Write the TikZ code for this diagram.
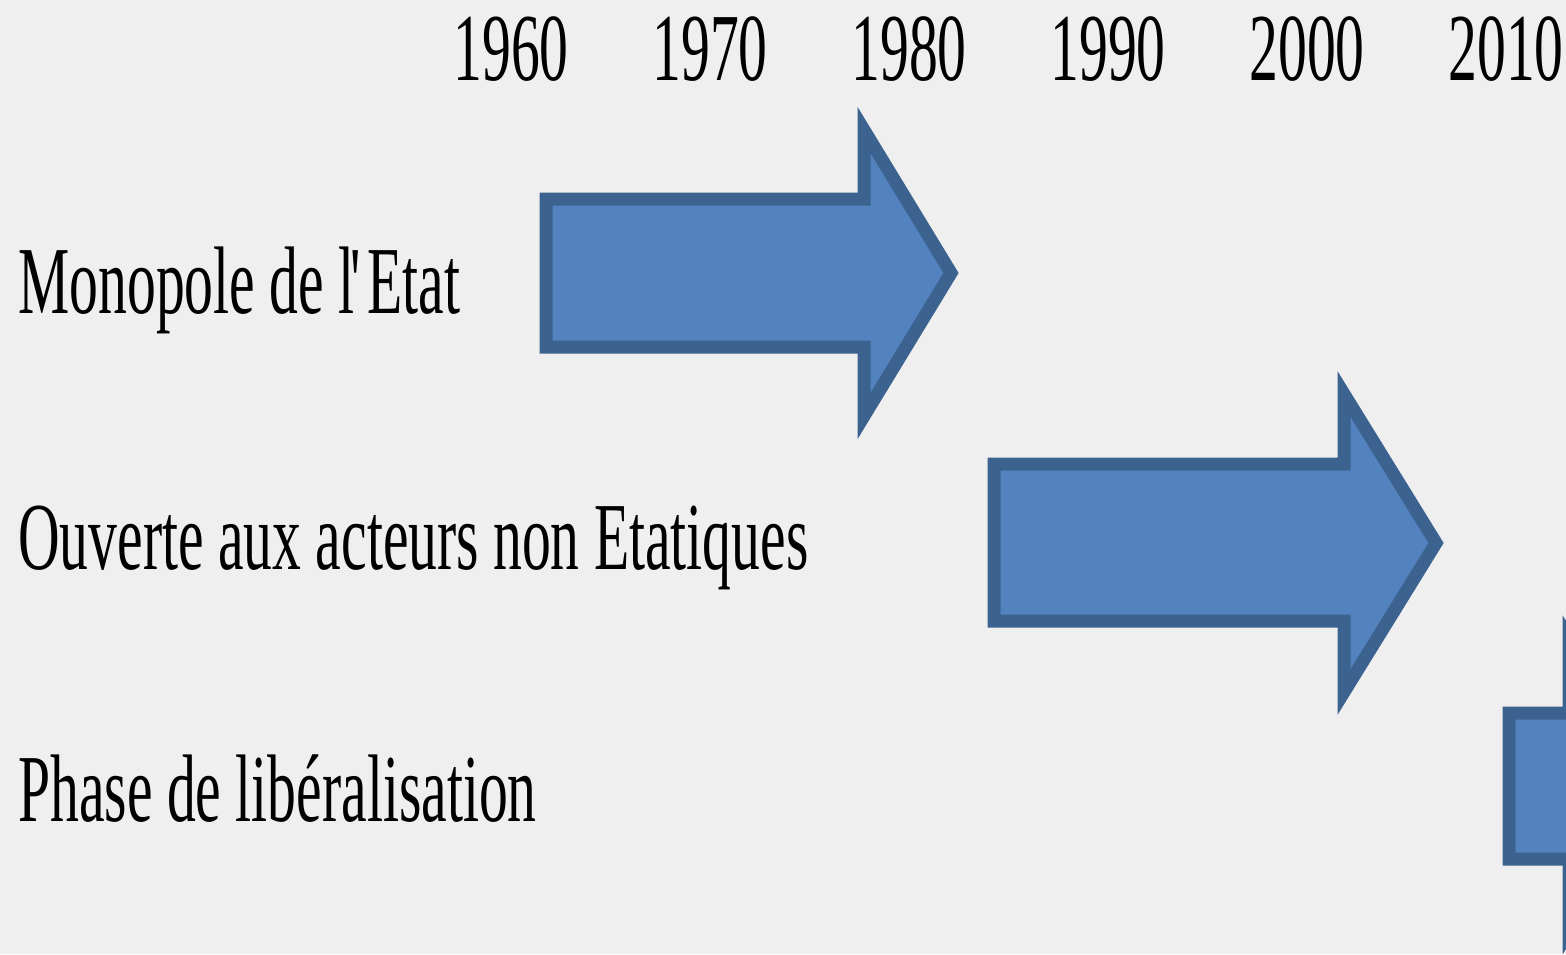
\documentclass[tikz,border=0pt]{standalone}
\usepackage{fontspec}
\newfontfamily\condserif[FakeStretch=0.6]{Liberation Serif}
\usetikzlibrary{positioning}

\definecolor{fondgris}{HTML}{EFEFEF}
\definecolor{bleufleche}{HTML}{5383BE}
\definecolor{bordfleche}{HTML}{3C6290}

\begin{document}
\begin{tikzpicture}[
    x=0.5pt, y=-0.5pt,
    txt/.style={font=\condserif\fontsize{48}{58}\selectfont, inner sep=0pt, anchor=base west},
    fleche/.style={draw=bordfleche, fill=bleufleche, line width=6.5pt, line join=miter},
  ]
    \clip (0,0) rectangle (1566,954);
    \fill[fondgris] (0,0) rectangle (1566,954);

    % Annees (axe du haut)
    \foreach \an [count=\i from 0] in {1960,1970,1980,1990,2000,2010}
      \node[txt] (an\an) at (453+199*\i, 80) {\an};

    % Phases
    \node[txt] (monopole) at (18,313) {Monopole de l\kern-2pt\textquotesingle Etat};
    \node[txt] (ouverte)  at (18,569) {Ouverte aux acteurs non Etatiques};
    \node[txt] (liberal)  at (18,821) {Phase de libéralisation};

    % Fleches des periodes
    \draw[fleche] (546,199) -- (864,199) -- (864,130) -- (951,273) -- (864,416) -- (864,347) -- (546,347) -- cycle;
    \draw[fleche] (994,464) -- (1344,464) -- (1344,394) -- (1436,543) -- (1344,692) -- (1344,621) -- (994,621) -- cycle;
    \draw[fleche] (1509,713) -- (1569,713) -- (1569,638) -- (1661,786) -- (1569,932) -- (1569,859) -- (1509,859) -- cycle;
\end{tikzpicture}
\end{document}
